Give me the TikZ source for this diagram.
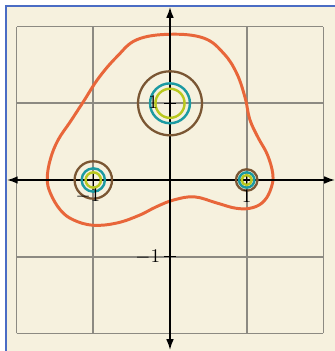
\documentclass[tikz,border=0pt]{standalone}
\usetikzlibrary{arrows.meta}
\definecolor{bgcream}{HTML}{F6F1DE}
\definecolor{bordblue}{HTML}{4A6CC4}
\definecolor{gridgray}{HTML}{8C8A82}
\definecolor{curveorange}{HTML}{E8663A}
\definecolor{ringbrown}{HTML}{7A5633}
\definecolor{ringteal}{HTML}{1B9AA2}
\definecolor{ringyellow}{HTML}{B9C81E}
\tikzset{
  gridline/.style={draw=gridgray, line width=1.2pt},
  axisline/.style={draw=black, line width=1.2pt, -{Latex[length=2.8mm,width=2mm]}},
  tickline/.style={draw=black, line width=1pt},
  levelcurve/.style={draw=curveorange, line width=2.2pt},
  brownring/.style={draw=ringbrown, line width=1.7pt},
  tealring/.style={draw=ringteal, line width=1.8pt},
  yellowring/.style={draw=ringyellow, line width=1.8pt},
  ticklabel/.style={inner sep=0pt, font=\fontsize{14}{16}\selectfont}
}
\begin{document}
\begin{tikzpicture}[x=2cm,y=2cm]
\useasboundingbox (-2.2164,-2.2295) rectangle (2.1512,2.3468);
\fill[white] (-2.2164,-2.2295) rectangle (2.1512,2.3468);
\fill[bgcream] (-2.138,-2.2295) rectangle (2.1512,2.268);
\draw[bordblue, line width=1.6pt] (-2.138,-2.2295) -- (-2.138,2.268) -- (2.1512,2.268);
% grid
\draw[gridline, step=2cm] (-2,-2) grid (2,2);
% level curve
\draw[levelcurve] plot[smooth cycle, tension=0.65] coordinates {
 (0,1.90) (0.44,1.85) (0.70,1.65) (0.87,1.39) (0.98,1.07) (1.04,0.79) (1.15,0.55)
 (1.27,0.33) (1.34,0.08) (1.32,-0.10) (1.23,-0.27) (1.08,-0.36) (0.87,-0.37)
 (0.61,-0.30) (0.32,-0.22) (0.05,-0.26) (-0.18,-0.35) (-0.40,-0.46) (-0.69,-0.56)
 (-1.0,-0.59) (-1.26,-0.52) (-1.43,-0.39) (-1.56,-0.17) (-1.60,0.02) (-1.56,0.27)
 (-1.46,0.52) (-1.30,0.76) (-1.13,1.02) (-0.93,1.33) (-0.69,1.61) (-0.43,1.83)};
% axes
\coordinate (xl) at (-2.125,0);
\coordinate (xr) at (2.151,0);
\coordinate (yt) at (0,2.255);
\coordinate (yb) at (0,-2.216);
\coordinate (o) at (0,0);
\draw[axisline] (o) -- (xl);
\draw[axisline] (o) -- (xr);
\draw[axisline] (o) -- (yt);
\draw[axisline] (o) -- (yb);
% ticks
\draw[tickline] (-1,-0.08) -- (-1,0.08);
\draw[tickline] (1,-0.08) -- (1,0.08);
\draw[tickline] (-0.08,1) -- (0.08,1);
\draw[tickline] (-0.08,-1) -- (0.08,-1);
% rings around i
\draw[brownring] (0,1) circle (0.417);
\draw[tealring] (0,1) circle (0.26);
\draw[yellowring] (0,1) circle (0.19);
% rings around -1
\draw[brownring] (-1,0) circle (0.244);
\draw[tealring] (-1,0) circle (0.152);
\draw[yellowring] (-1,0) circle (0.10);
% rings around 1
\draw[brownring] (1,0) circle (0.14);
\draw[tealring] (1,0) circle (0.10);
\draw[yellowring] (1,0) circle (0.065);
% labels
\node[ticklabel] (lxm) at (-1.07,-0.215) {$-1$};
\node[ticklabel] (lxp) at (1.0,-0.215) {$1$};
\node[ticklabel] (lyp) at (-0.22,1.02) {$1$};
\node[ticklabel] (lym) at (-0.29,-1.01) {$-1$};
\end{tikzpicture}
\end{document}
